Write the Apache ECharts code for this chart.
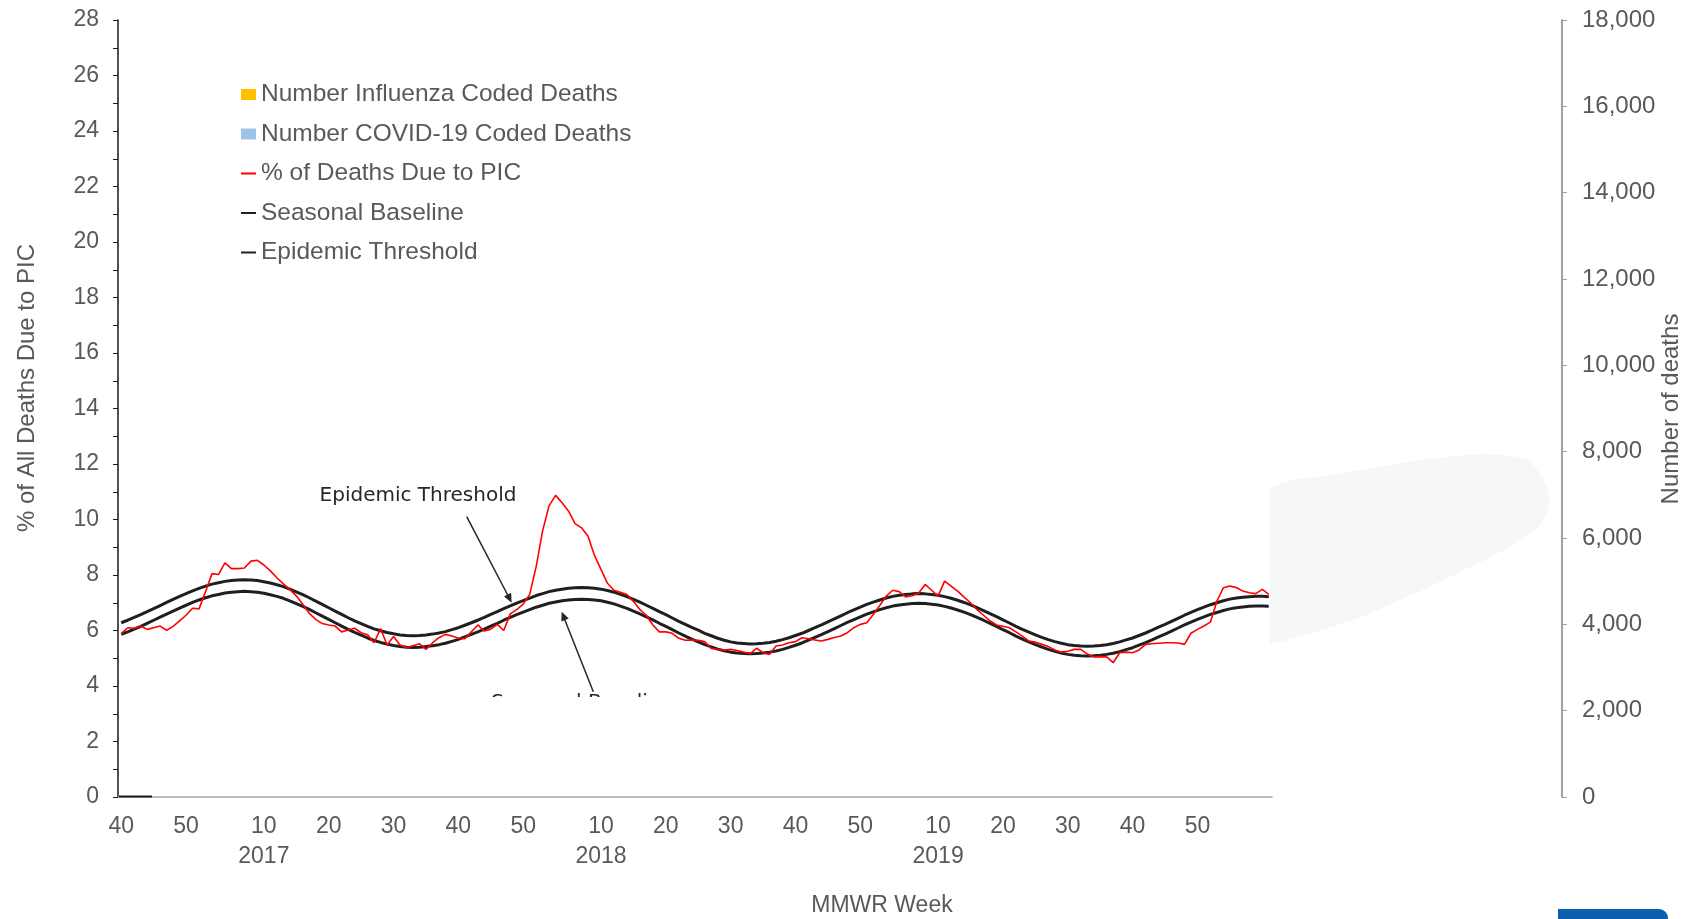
<!DOCTYPE html>
<html><head><meta charset="utf-8">
<script src="https://cdn.jsdelivr.net/npm/echarts@6/dist/echarts.min.js"></script>
<style>html,body{margin:0;padding:0;background:#fff}#c{width:1687px;height:919px}</style>
</head><body><div id="c"></div>
<script>
// ---- data ----
const seasonYears = [2016, 2017, 2018, 2019, 2020];
const weekRanges = [[40, 52], [1, 52], [1, 52], [1, 52], [1, 9]];
const labeledWeeks = [10, 20, 30, 40, 50];
const yearLabelWeek = 10;

const picPercent = [
5.89, 6.10, 6.08, 6.16, 6.04, 6.10, 6.16, 6.01, 6.15, 6.35,
6.55, 6.80, 6.78, 7.40, 8.05, 8.02, 8.44, 8.23, 8.23, 8.25,
8.50, 8.53, 8.36, 8.15, 7.90, 7.68, 7.48, 7.25, 6.95, 6.62,
6.40, 6.25, 6.20, 6.16, 5.95, 6.02, 6.08, 5.92, 5.85, 5.56,
6.07, 5.48, 5.78, 5.48, 5.38, 5.45, 5.52, 5.32, 5.55, 5.74,
5.86, 5.80, 5.72, 5.70, 5.95, 6.20, 5.98, 6.05, 6.22, 6.00,
6.60, 6.75, 6.95, 7.30, 8.30, 9.60, 10.50, 10.87, 10.60, 10.30,
9.85, 9.70, 9.40, 8.70, 8.20, 7.70, 7.45, 7.38, 7.30, 7.05,
6.75, 6.55, 6.20, 5.95, 5.95, 5.90, 5.72, 5.65, 5.66, 5.65,
5.60, 5.35, 5.32, 5.30, 5.32, 5.28, 5.22, 5.17, 5.36, 5.20,
5.14, 5.44, 5.48, 5.56, 5.60, 5.74, 5.70, 5.66, 5.62, 5.68,
5.75, 5.80, 5.92, 6.10, 6.22, 6.28, 6.58, 6.90, 7.24, 7.45,
7.40, 7.21, 7.25, 7.35, 7.66, 7.45, 7.24, 7.78, 7.60, 7.42,
7.20, 7.00, 6.75, 6.55, 6.35, 6.20, 6.15, 6.10, 5.95, 5.80,
5.62, 5.58, 5.50, 5.42, 5.30, 5.22, 5.25, 5.32, 5.32, 5.15,
5.05, 5.06, 5.05, 4.84, 5.20, 5.22, 5.20, 5.30, 5.50, 5.52,
5.54, 5.56, 5.56, 5.55, 5.50, 5.90, 6.04, 6.16, 6.30, 7.06,
7.54, 7.60, 7.55, 7.42, 7.36, 7.33, 7.48, 7.30
];

const seasonalBaseline = [
5.86, 5.95, 6.05, 6.15, 6.26, 6.37, 6.48, 6.59, 6.70, 6.81,
6.91, 7.01, 7.10, 7.18, 7.25, 7.30, 7.35, 7.38, 7.40, 7.41,
7.40, 7.38, 7.34, 7.29, 7.23, 7.16, 7.07, 6.97, 6.87, 6.76,
6.64, 6.52, 6.40, 6.28, 6.16, 6.04, 5.93, 5.83, 5.73, 5.64,
5.57, 5.51, 5.46, 5.42, 5.40, 5.39, 5.40, 5.42, 5.45, 5.49,
5.54, 5.61, 5.68, 5.77, 5.86, 5.95, 6.05, 6.16, 6.26, 6.37,
6.47, 6.57, 6.66, 6.75, 6.84, 6.91, 6.98, 7.03, 7.07, 7.10,
7.12, 7.13, 7.12, 7.10, 7.07, 7.02, 6.96, 6.88, 6.80, 6.70,
6.60, 6.49, 6.38, 6.26, 6.15, 6.03, 5.91, 5.80, 5.69, 5.59,
5.49, 5.41, 5.33, 5.27, 5.22, 5.19, 5.17, 5.16, 5.17, 5.19,
5.22, 5.26, 5.32, 5.39, 5.47, 5.55, 5.65, 5.75, 5.85, 5.96,
6.07, 6.18, 6.29, 6.39, 6.49, 6.59, 6.67, 6.75, 6.82, 6.88,
6.92, 6.95, 6.97, 6.98, 6.97, 6.95, 6.92, 6.87, 6.81, 6.74,
6.66, 6.57, 6.47, 6.37, 6.26, 6.15, 6.03, 5.92, 5.80, 5.69,
5.59, 5.49, 5.40, 5.32, 5.25, 5.19, 5.14, 5.11, 5.09, 5.08,
5.09, 5.11, 5.14, 5.18, 5.24, 5.31, 5.38, 5.47, 5.56, 5.66,
5.77, 5.87, 5.98, 6.09, 6.20, 6.30, 6.40, 6.49, 6.58, 6.65,
6.72, 6.78, 6.82, 6.85, 6.87, 6.88, 6.88, 6.87
];

const epidemicThreshold = [
6.28, 6.37, 6.47, 6.57, 6.68, 6.79, 6.90, 7.01, 7.12, 7.23,
7.33, 7.43, 7.52, 7.60, 7.67, 7.72, 7.77, 7.80, 7.82, 7.83,
7.82, 7.80, 7.76, 7.71, 7.65, 7.58, 7.49, 7.39, 7.29, 7.18,
7.06, 6.94, 6.82, 6.70, 6.58, 6.46, 6.35, 6.25, 6.15, 6.06,
5.99, 5.93, 5.88, 5.84, 5.82, 5.81, 5.82, 5.84, 5.87, 5.91,
5.96, 6.03, 6.10, 6.19, 6.28, 6.37, 6.47, 6.58, 6.68, 6.79,
6.89, 6.99, 7.08, 7.17, 7.26, 7.33, 7.40, 7.45, 7.49, 7.52,
7.54, 7.55, 7.54, 7.52, 7.49, 7.44, 7.38, 7.30, 7.22, 7.12,
7.02, 6.91, 6.80, 6.68, 6.57, 6.45, 6.33, 6.22, 6.11, 6.01,
5.90, 5.81, 5.72, 5.65, 5.59, 5.55, 5.53, 5.51, 5.52, 5.54,
5.57, 5.61, 5.67, 5.74, 5.82, 5.90, 6.00, 6.10, 6.20, 6.31,
6.42, 6.53, 6.64, 6.74, 6.84, 6.94, 7.02, 7.10, 7.17, 7.23,
7.27, 7.30, 7.32, 7.33, 7.32, 7.30, 7.27, 7.22, 7.16, 7.09,
7.01, 6.92, 6.82, 6.72, 6.61, 6.50, 6.38, 6.27, 6.15, 6.04,
5.94, 5.84, 5.75, 5.67, 5.60, 5.54, 5.49, 5.46, 5.44, 5.43,
5.44, 5.46, 5.49, 5.53, 5.59, 5.66, 5.73, 5.82, 5.91, 6.01,
6.12, 6.22, 6.33, 6.44, 6.55, 6.65, 6.75, 6.84, 6.93, 7.00,
7.07, 7.13, 7.17, 7.20, 7.22, 7.23, 7.23, 7.22
];

const influenzaDeaths = [];
const covidDeaths = [];

// ---- categories ----
const categories = [];
seasonYears.forEach((y, k) => {
  for (let w = weekRanges[k][0]; w <= weekRanges[k][1]; w++) categories.push(y + '-' + w);
});
const weekOf = c => parseInt(c.split('-')[1], 10);
const yearOf = c => c.split('-')[0];

const FONT = '"Liberation Sans", Arial, sans-serif';
const ANNOT = '"DejaVu Sans", sans-serif';
const hideSymbol = {color: 'rgba(0,0,0,0)', opacity: 0, borderWidth: 0};

const chart = echarts.init(document.getElementById('c'), null, {renderer: 'canvas'});
const option = {
  animation: false,
  backgroundColor: '#ffffff',
  textStyle: {fontFamily: FONT},
  grid: {left: 118, right: 415, top: 20, bottom: 122},
  legend: {
    orient: 'vertical', left: 235, top: 77,
    itemWidth: 15, itemHeight: 11, itemGap: 14.5, selectedMode: false,
    textStyle: {color: '#595959', fontSize: 24.5, lineHeight: 24, fontFamily: FONT},
    data: [
      {name: 'Number Influenza Coded Deaths', icon: 'rect'},
      {name: 'Number COVID-19 Coded Deaths', icon: 'rect'},
      {name: '% of Deaths Due to PIC', lineStyle: {width: 2}, itemStyle: hideSymbol},
      {name: 'Seasonal Baseline', lineStyle: {width: 2}, itemStyle: hideSymbol},
      {name: 'Epidemic Threshold', lineStyle: {width: 2}, itemStyle: hideSymbol}
    ]
  },
  xAxis: {
    type: 'category', data: categories, boundaryGap: true,
    axisLine: {lineStyle: {color: '#a6a6a6', width: 1.5}},
    axisTick: {show: false},
    splitLine: {show: false},
    axisLabel: {
      color: '#595959', fontSize: 23, lineHeight: 30, margin: 15, fontFamily: FONT,
      interval: (i, v) => labeledWeeks.indexOf(weekOf(v)) >= 0,
      formatter: v => weekOf(v) === yearLabelWeek ? weekOf(v) + '\n' + yearOf(v) : String(weekOf(v))
    }
  },
  yAxis: [
    {
      type: 'value', min: 0, max: 28, interval: 2, position: 'left',
      axisLine: {show: true, lineStyle: {color: '#1a1a1a', width: 1.5}},
      axisTick: {show: true, length: 5, lineStyle: {color: '#1a1a1a'}},
      minorTick: {show: true, splitNumber: 2, length: 5, lineStyle: {color: '#1a1a1a'}},
      splitLine: {show: false},
      axisLabel: {color: '#595959', fontSize: 23, margin: 19, fontFamily: FONT}
    },
    {
      type: 'value', min: 0, max: 18000, interval: 2000, position: 'right', offset: 290,
      axisLine: {show: true, lineStyle: {color: '#a0a0a0', width: 2}},
      axisTick: {show: true, length: 5, lineStyle: {color: '#a0a0a0'}},
      splitLine: {show: false},
      axisLabel: {color: '#595959', fontSize: 24, margin: 20, fontFamily: FONT,
        formatter: v => String(v).replace(/\B(?=(\d{3})+(?!\d))/g, ',')}
    }
  ],
  series: [
    {name: 'Number Influenza Coded Deaths', type: 'bar', yAxisIndex: 1, stack: 'deaths',
     data: influenzaDeaths, itemStyle: {color: '#FFC000'}},
    {name: 'Number COVID-19 Coded Deaths', type: 'bar', yAxisIndex: 1, stack: 'deaths',
     data: covidDeaths, itemStyle: {color: '#9DC3E6'}},
    {name: 'Seasonal Baseline', type: 'line', yAxisIndex: 0, data: seasonalBaseline,
     symbol: 'none', itemStyle: {color: '#1f1f1f'}, lineStyle: {color: '#1f1f1f', width: 3}, z: 3},
    {name: 'Epidemic Threshold', type: 'line', yAxisIndex: 0, data: epidemicThreshold,
     symbol: 'none', itemStyle: {color: '#1f1f1f'}, lineStyle: {color: '#1f1f1f', width: 3}, z: 3},
    {name: '% of Deaths Due to PIC', type: 'line', yAxisIndex: 0, data: picPercent,
     symbol: 'none', itemStyle: {color: '#ff0000'}, lineStyle: {color: '#ff0000', width: 1.6}, z: 4}
  ],
  graphic: [
    {type: 'text', x: 27, y: 388, rotation: Math.PI / 2, z: 10,
     style: {text: '% of All Deaths Due to PIC', fontSize: 24, fontFamily: FONT, fill: '#595959', align: 'center', verticalAlign: 'middle'}},
    {type: 'text', x: 1671, y: 409, rotation: Math.PI / 2, z: 10,
     style: {text: 'Number of deaths', fontSize: 24, fontFamily: FONT, fill: '#595959', align: 'center', verticalAlign: 'middle'}},
    {type: 'text', x: 882, y: 906, z: 10,
     style: {text: 'MMWR Week', fontSize: 23, fontFamily: FONT, fill: '#595959', align: 'center', verticalAlign: 'middle'}},
    {type: 'text', x: 418, y: 496, z: 10,
     style: {text: 'Epidemic Threshold', fontSize: 20, fontFamily: ANNOT, fill: '#262626', align: 'center', verticalAlign: 'middle'}},
    {type: 'line', z: 10, shape: {x1: 466.7, y1: 516.7, x2: 509, y2: 597.5}, style: {stroke: '#262626', lineWidth: 1.5}},
    {type: 'polygon', z: 10, shape: {points: [[511.7, 602.7], [504.0, 596.6], [511.1, 592.8]]}, style: {fill: '#262626'}},
    {type: 'line', z: 10, shape: {x1: 593.3, y1: 691.7, x2: 563.5, y2: 616.5}, style: {stroke: '#262626', lineWidth: 1.5}},
    {type: 'polygon', z: 10, shape: {points: [[561.7, 611.7], [568.7, 618.6], [561.3, 621.6]]}, style: {fill: '#262626'}},
    {type: 'text', x: 582, y: 703, z: 10,
     style: {text: 'Seasonal Baseline', fontSize: 20, fontFamily: ANNOT, fill: '#262626', align: 'center', verticalAlign: 'middle'}},
    {type: 'rect', z: 11, shape: {x: 470, y: 697, width: 230, height: 92}, style: {fill: '#ffffff'}},
    {type: 'polygon', z: 9,
     shape: {points: [[1270, 490], [1345, 473], [1420, 460], [1485, 454], [1528, 460], [1546, 484], [1549, 506], [1539, 527], [1506, 549], [1431, 586], [1356, 619], [1270, 643]],
             smooth: 0.2, smoothConstraint: [[1270, 452], [1551, 645]]},
     style: {fill: '#f6f7f7'}},
    {type: 'line', z: 10, shape: {x1: 119, y1: 796.5, x2: 152, y2: 796.5}, style: {stroke: '#1a1a1a', lineWidth: 2}},
    {type: 'rect', z: 10, shape: {x: 1558, y: 909, width: 110, height: 20, r: [0, 9, 0, 0]}, style: {fill: '#0b5fad'}}
  ]
};
chart.setOption(option);
</script>
</body></html>
